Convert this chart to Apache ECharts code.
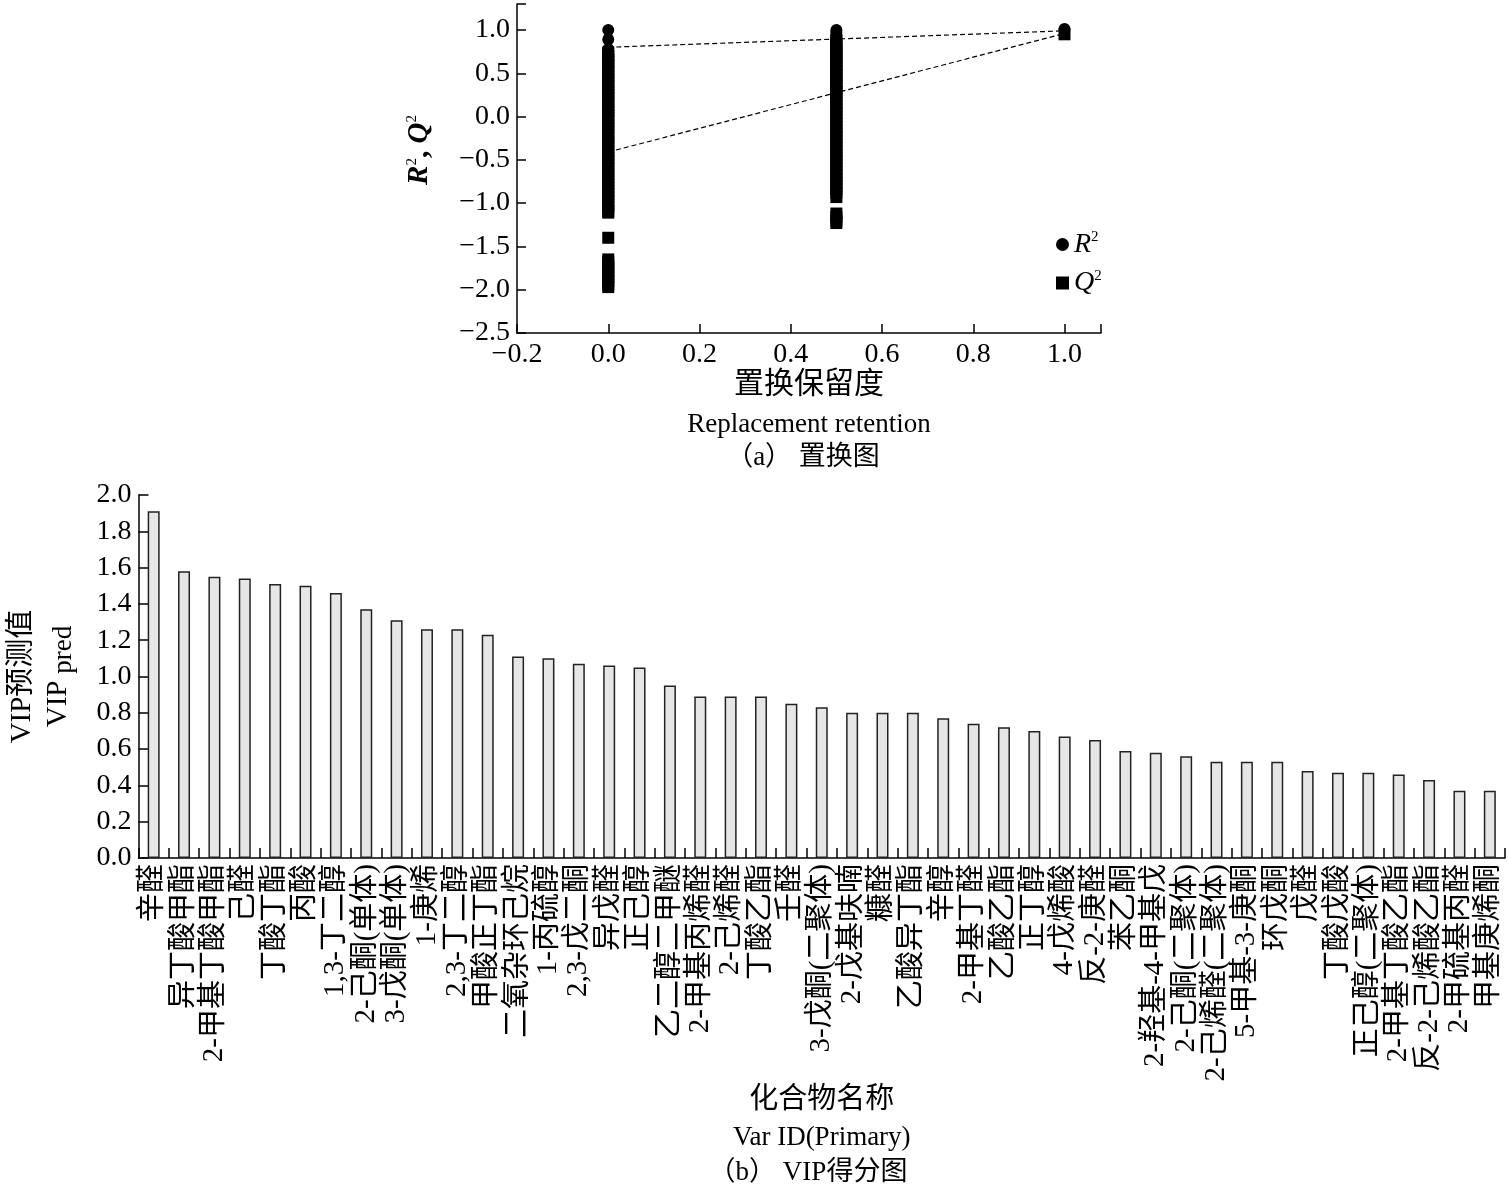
<!DOCTYPE html>
<html>
<head>
<meta charset="utf-8">
<script src="https://cdn.jsdelivr.net/npm/echarts@6/dist/echarts.min.js"></script>
<style>html,body{margin:0;padding:0;background:#fff}#c{width:1509px;height:1192px}</style>
</head>
<body>
<div id="c"></div>
<script>
// ---------- (a) permutation plot data ----------
const retentionTicks = [-0.2, 0.0, 0.2, 0.4, 0.6, 0.8, 1.0];
const r2AtZero = [1.00, 0.89, 0.78, 0.75, 0.72, 0.69, 0.65, 0.62, 0.58, 0.55, 0.52, 0.48, 0.45, 0.41, 0.38, 0.35, 0.31, 0.28, 0.24, 0.21, 0.18, 0.14, 0.11, 0.07, 0.04, 0.01];
const q2AtZero = [0.74, 0.70, 0.66, 0.63, 0.59, 0.55, 0.51, 0.47, 0.44, 0.40, 0.36, 0.32, 0.28, 0.25, 0.21, 0.17, 0.13, 0.09, 0.06, 0.02, -0.02, -0.06, -0.10, -0.13, -0.17, -0.21, -0.25, -0.29, -0.32, -0.36, -0.40, -0.44, -0.48, -0.51, -0.55, -0.59, -0.63, -0.67, -0.70, -0.74, -0.78, -0.82, -0.86, -0.89, -0.93, -0.97, -1.01, -1.05, -1.09, -1.11, -1.40, -1.65, -1.68, -1.72, -1.75, -1.79, -1.82, -1.86, -1.90, -1.94, -1.97];
const r2AtHalf = [1.00, 0.97, 0.94, 0.91, 0.88, 0.85, 0.81, 0.78, 0.75, 0.72, 0.68, 0.65, 0.62, 0.58, 0.55, 0.52, 0.48, 0.45, 0.42, 0.39, 0.35, 0.32];
const q2AtHalf = [0.88, 0.84, 0.80, 0.76, 0.72, 0.68, 0.64, 0.60, 0.56, 0.52, 0.48, 0.44, 0.40, 0.36, 0.32, 0.28, 0.24, 0.20, 0.16, 0.12, 0.08, 0.04, 0.00, -0.04, -0.08, -0.12, -0.16, -0.20, -0.24, -0.28, -0.32, -0.36, -0.40, -0.44, -0.48, -0.52, -0.56, -0.60, -0.64, -0.68, -0.72, -0.76, -0.80, -0.84, -0.88, -0.93, -1.12, -1.16, -1.20, -1.23];
const r2Original = 1.01;
const q2Original = 0.95;
const r2Regression = [[0.0, 0.80], [1.0, 0.99]];
const q2Regression = [[0.0, -0.41], [1.0, 0.96]];

// ---------- (b) VIP plot data ----------
const vipNames = ['辛醛','异丁酸甲酯','2-甲基丁酸甲酯','己醛','丁酸丁酯','丙酸','1,3-丁二醇','2-己酮(单体)','3-戊酮(单体)','1-庚烯','2,3-丁二醇','甲酸正丁酯','二氧杂环己烷','1-丙硫醇','2,3-戊二酮','异戊醛','正己醇','乙二醇二甲醚','2-甲基丙烯醛','2-己烯醛','丁酸乙酯','壬醛','3-戊酮(二聚体)','2-戊基呋喃','糠醛','乙酸异丁酯','辛醇','2-甲基丁醛','乙酸乙酯','正丁醇','4-戊烯酸','反-2-庚醛','苯乙酮','2-羟基-4-甲基戊','2-己酮(二聚体)','2-己烯醛(二聚体)','5-甲基-3-庚酮','环戊酮','戊醛','丁酸戊酸','正己醇(二聚体)','2-甲基丁酸乙酯','反-2-己烯酸乙酯','2-甲硫基丙醛','甲基庚烯酮'];
const vipValues = [1.91,1.58,1.55,1.54,1.51,1.50,1.46,1.37,1.31,1.26,1.26,1.23,1.11,1.10,1.07,1.06,1.05,0.95,0.89,0.89,0.89,0.85,0.83,0.80,0.80,0.80,0.77,0.74,0.72,0.70,0.67,0.65,0.59,0.58,0.56,0.53,0.53,0.53,0.48,0.47,0.47,0.46,0.43,0.37,0.37];

// ---------- build ----------
const SERIF = "'Liberation Serif','Times New Roman','Noto Sans CJK SC',serif";
const CJK = "'Liberation Serif','Noto Sans CJK SC',serif";

function numFmt(step) {
  return function (v) {
    const k = v / step;
    if (Math.abs(k - Math.round(k)) > 1e-6) return '';
    return (v < -1e-9 ? '\u2212' : '') + Math.abs(v).toFixed(1);
  };
}

const r2Data = r2AtZero.map(v => [0.0, v])
  .concat(r2AtHalf.map(v => [0.5, v]))
  .concat([[1.0, r2Original]]);
const q2Data = q2AtZero.map(v => [0.0, v])
  .concat(q2AtHalf.map(v => [0.5, v]))
  .concat([[1.0, q2Original]]);

const axisLineStyle = { color: '#000', width: 1.5 };
const tickStyle = { color: '#000', width: 1.5 };

const chart = echarts.init(document.getElementById('c'), null, { renderer: 'canvas' });

chart.setOption({
  backgroundColor: '#fff',
  animation: false,
  grid: [
    { left: 517, right: 408, top: 4, bottom: 859, containLabel: false },
    { left: 133, right: 4, top: 495, bottom: 334, containLabel: false }
  ],
  legend: {
    orient: 'vertical',
    left: 1051,
    top: 225,
    itemWidth: 13,
    itemHeight: 13,
    itemGap: 10,
    itemStyle: { opacity: 1, color: '#000' },
    data: [
      { name: 'R2', icon: 'circle' },
      { name: 'Q2', icon: 'rect' }
    ],
    formatter: n => n === 'R2' ? '{i|R}{s|2}' : '{i|Q}{s|2}',
    textStyle: {
      color: '#000',
      fontFamily: SERIF,
      rich: {
        i: { fontSize: 28, fontStyle: 'italic', fontFamily: SERIF, color: '#000', lineHeight: 29 },
        s: { fontSize: 15, fontFamily: SERIF, color: '#000', verticalAlign: 'top', lineHeight: 15 }
      }
    }
  },
  xAxis: [
    {
      type: 'value', gridIndex: 0, min: -0.2, max: 1.08, interval: 0.2,
      axisLine: { show: true, onZero: false, lineStyle: axisLineStyle },
      axisTick: { show: true, inside: true, length: 9, lineStyle: tickStyle },
      splitLine: { show: false },
      axisLabel: { color: '#000', fontFamily: SERIF, fontSize: 28, margin: 8, formatter: numFmt(0.2) },
      name: '{cn|置换保留度}\n{en|Replacement retention}',
      nameLocation: 'middle',
      nameGap: 31,
      nameTextStyle: {
        color: '#000',
        rich: {
          cn: { fontSize: 30, fontFamily: CJK, color: '#000', lineHeight: 40 },
          en: { fontSize: 27, fontFamily: SERIF, color: '#000', lineHeight: 40 }
        }
      }
    },
    {
      type: 'category', gridIndex: 1, data: vipNames, boundaryGap: true,
      axisLine: { show: true, lineStyle: axisLineStyle },
      axisTick: { show: true, inside: true, length: 10, alignWithLabel: false, interval: 0, lineStyle: tickStyle },
      splitLine: { show: false },
      axisLabel: { color: '#000', fontFamily: CJK, fontSize: 29, rotate: 90, interval: 0, margin: 6 },
      name: '{cn|化合物名称}\n{en|Var ID(Primary)}',
      nameLocation: 'middle',
      nameGap: 224,
      nameTextStyle: {
        color: '#000',
        rich: {
          cn: { fontSize: 29, fontFamily: CJK, color: '#000', lineHeight: 37 },
          en: { fontSize: 27, fontFamily: SERIF, color: '#000', lineHeight: 37 }
        }
      }
    }
  ],
  yAxis: [
    {
      type: 'value', gridIndex: 0, min: -2.5, max: 1.3, interval: 0.5,
      axisLine: { show: true, onZero: false, lineStyle: axisLineStyle },
      axisTick: { show: true, inside: true, length: 9, lineStyle: tickStyle },
      splitLine: { show: false },
      axisLabel: { color: '#000', fontFamily: SERIF, fontSize: 28, margin: 7, formatter: numFmt(0.5) }
    },
    {
      type: 'value', gridIndex: 1, min: 0, max: 2.0, interval: 0.2,
      axisLine: { show: true, lineStyle: axisLineStyle },
      axisTick: { show: true, inside: true, length: 10, lineStyle: tickStyle },
      splitLine: { show: false },
      axisLabel: { color: '#000', fontFamily: SERIF, fontSize: 28, margin: 7, formatter: numFmt(0.2) },
      name: '{cn|VIP预测值}\n{en|VIP}{sub| pred}',
      nameLocation: 'middle',
      nameRotate: 90,
      nameGap: 62,
      nameTextStyle: {
        color: '#000',
        rich: {
          cn: { fontSize: 29, fontFamily: CJK, color: '#000', lineHeight: 36 },
          en: { fontSize: 29, fontFamily: SERIF, color: '#000', lineHeight: 36 },
          sub: { fontSize: 27, fontFamily: SERIF, color: '#000', lineHeight: 36, padding: [10, 0, 0, 0] }
        }
      }
    }
  ],
  series: [
    {
      name: 'R2', type: 'scatter', xAxisIndex: 0, yAxisIndex: 0,
      symbol: 'circle', symbolSize: 12,
      itemStyle: { color: '#000', opacity: 1 },
      data: r2Data, z: 3
    },
    {
      name: 'Q2', type: 'scatter', xAxisIndex: 0, yAxisIndex: 0,
      symbol: 'rect', symbolSize: 12,
      itemStyle: { color: '#000', opacity: 1 },
      data: q2Data, z: 3
    },
    {
      name: 'R2 line', type: 'line', xAxisIndex: 0, yAxisIndex: 0,
      symbol: 'none', data: r2Regression, silent: true,
      lineStyle: { color: '#000', width: 1.2, type: [5, 3] }, z: 4
    },
    {
      name: 'Q2 line', type: 'line', xAxisIndex: 0, yAxisIndex: 0,
      symbol: 'none', data: q2Regression, silent: true,
      lineStyle: { color: '#000', width: 1.2, type: [5, 3] }, z: 4
    },
    {
      name: 'VIP', type: 'bar', xAxisIndex: 1, yAxisIndex: 1,
      barWidth: 12,
      itemStyle: { color: '#e6e6e6', borderColor: '#222', borderWidth: 1.5 },
      data: vipValues
    }
  ],
  graphic: [
    {
      type: 'text', x: 420, y: 150, rotation: Math.PI / 2,
      style: {
        text: '{i|R}{s|2}{n|, }{i|Q}{s|2}',
        textAlign: 'center', textVerticalAlign: 'middle',
        fill: '#000',
        rich: {
          i: { fontSize: 29, fontStyle: 'italic', fontWeight: 'bold', fontFamily: SERIF, fill: '#000', lineHeight: 30 },
          s: { fontSize: 15, fontFamily: SERIF, fill: '#000', verticalAlign: 'top', lineHeight: 15 },
          n: { fontSize: 29, fontWeight: 'bold', fontFamily: SERIF, fill: '#000', lineHeight: 30 }
        }
      }
    },
    {
      type: 'text', x: 803, y: 458,
      style: { text: '（a） 置换图', textAlign: 'center', textVerticalAlign: 'middle', fill: '#000', font: "27px 'Liberation Serif','Noto Sans CJK SC',serif" }
    },
    {
      type: 'text', x: 808, y: 1173,
      style: { text: '（b） VIP得分图', textAlign: 'center', textVerticalAlign: 'middle', fill: '#000', font: "27px 'Liberation Serif','Noto Sans CJK SC',serif" }
    }
  ]
});
</script>
</body>
</html>
